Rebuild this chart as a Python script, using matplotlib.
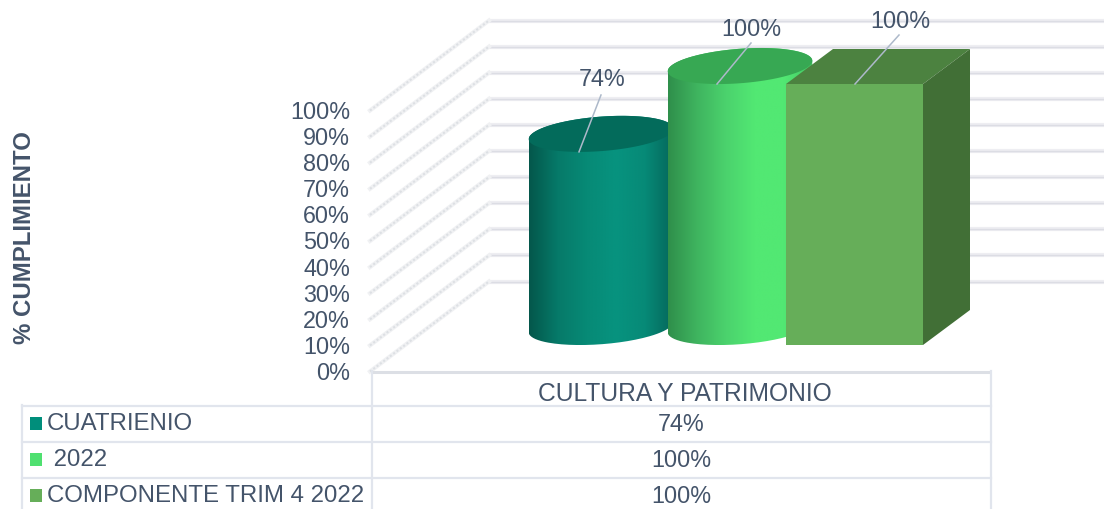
import numpy as np
import matplotlib
matplotlib.use("Agg")
import matplotlib.pyplot as plt
from matplotlib.colors import LinearSegmentedColormap
from matplotlib.patches import Polygon, Rectangle
from matplotlib.path import Path

plt.rcParams['font.family'] = ['Liberation Sans', 'DejaVu Sans']

categories = ['CULTURA Y PATRIMONIO']
series_names = ['CUATRIENIO', ' 2022', 'COMPONENTE TRIM 4 2022']
series_values = [74, 100, 100]
value_labels = ['74%', '100%', '100%']
y_ticks = [0, 10, 20, 30, 40, 50, 60, 70, 80, 90, 100]
y_title = '% CUMPLIMIENTO'

TEXT = '#44546a'
GRID = '#e1e5ed'
LEADER = '#adb9ca'
SWATCH = ['#008e7b', '#4fe070', '#66ae59']
FS = 16.8
FS_LEGEND = 17.3
FS_CAT = 17.7
UNIT = 2.61   # px per percent
ELL_A, ELL_B, ELL_TILT = 72.5, 17.2, np.radians(4.4)

fig = plt.figure(figsize=(11.04, 5.10), dpi=100)
ax = fig.add_axes([0, 0, 1, 1])
ax.set_axis_off()


def front_y(v):
    return 372.5 - v * UNIT


def back_y(v):
    return 282.5 - v * UNIT


# walls
for t in y_ticks:
    ax.plot([489, 1104], [back_y(t), back_y(t)], color='#eeeef2', lw=3, zorder=1, solid_capstyle='butt')
    ax.plot([489, 1104], [back_y(t), back_y(t)], color='#dcdde4', lw=1, zorder=1, solid_capstyle='butt')
    ax.plot([370, 489], [front_y(t), back_y(t)], color='#f0f1f3', lw=3, zorder=1)
    ax.plot([370, 489], [front_y(t), back_y(t)], color='#dde0e4', lw=1.5, ls=(0, (1, 1)), zorder=1)
    ax.text(350, front_y(t) + 1, f'{t}%', ha='right', va='center', fontsize=FS, color=TEXT)


def ellipse_pts(cx, cy, t):
    x = cx + ELL_A * np.cos(t) * np.cos(ELL_TILT) + ELL_B * np.sin(t) * np.sin(ELL_TILT)
    y = cy - ELL_A * np.cos(t) * np.sin(ELL_TILT) + ELL_B * np.sin(t) * np.cos(ELL_TILT)
    return np.column_stack([x, y])


def cylinder(cx, v, stops, cap, z):
    base = front_y(0) - 44.5
    top = base - v * UNIT
    t0 = np.arctan2(ELL_B * np.sin(ELL_TILT), ELL_A * np.cos(ELL_TILT))
    arc = np.linspace(t0, t0 + np.pi, 80)
    lower = ellipse_pts(cx, base, arc)
    upper = ellipse_pts(cx, top, arc + np.pi)
    pts = np.vstack([lower, upper])
    grad = np.linspace(0, 1, 256).reshape(1, -1)
    cmap = LinearSegmentedColormap.from_list('c', stops)
    im = ax.imshow(grad, cmap=cmap, extent=[pts[:, 0].min(), pts[:, 0].max(), pts[:, 1].max(), pts[:, 1].min()],
                   aspect='auto', zorder=z, interpolation='bilinear')
    im.set_clip_path(Path(pts), transform=ax.transData)
    ell = ellipse_pts(cx, top, np.linspace(0, 2 * np.pi, 120))
    ax.add_patch(Polygon(ell, closed=True, fc=cap, ec='none', zorder=z + 0.1))


cylinder(601, series_values[0], ['#04574b', '#067a69', '#078a76', '#07937f', '#078a77', '#05665a'], '#036b5b', 2)
cylinder(740, series_values[1], ['#2f8f4b', '#3fb45f', '#4bd26d', '#52e873', '#52e873', '#45c565'], '#37a853', 3)

# box
bx0, bx1, dx, dy = 786, 923, 47, 35
base = 346
top = base - series_values[2] * UNIT
ax.add_patch(Polygon([(bx0, top), (bx1, top), (bx1 + dx, top - dy), (bx0 + dx, top - dy)], fc='#4c8240', ec='none', zorder=4))
ax.add_patch(Polygon([(bx1, top), (bx1 + dx, top - dy), (bx1 + dx, base - dy), (bx1, base)], fc='#416f36', ec='none', zorder=4))
ax.add_patch(Rectangle((bx0, top), bx1 - bx0, base - top, fc='#66ae59', ec='none', zorder=4))

# leaders and labels
cyl_base = front_y(0) - 44.5
anchors = [(579, cyl_base - series_values[0] * UNIT + 18), (717, cyl_base - series_values[1] * UNIT + 18), (855, top)]
label_pos = [(602, 80), (751, 29), (900, 21)]
ends = [(601, 96), (751, 44), (899, 36)]
for (ax0, ay0), (lx, ly), (ex, ey), s in zip(anchors, label_pos, ends, value_labels):
    ax.plot([ax0, ex], [ay0, ey], color=LEADER, lw=1.1, zorder=6)
    ax.text(lx, ly, s, ha='center', va='center', fontsize=FS, color=TEXT, zorder=6)

# data table
ax.plot([371, 991], [372.5, 372.5], color='#dcdfe5', lw=2.2, zorder=1, solid_capstyle='butt')
for y0 in [406.5, 442.5, 478.5]:
    ax.plot([22, 991], [y0, y0], color=GRID, lw=1.6, zorder=1)
ax.plot([22, 22], [406, 510], color=GRID, lw=1.6, zorder=1)
ax.plot([371.5, 371.5], [372, 510], color=GRID, lw=1.6, zorder=1)
ax.plot([991, 991], [372, 510], color=GRID, lw=1.6, zorder=1)
ax.text(685, 394.5, categories[0], ha='center', va='center', fontsize=FS_CAT, color=TEXT)
for i, (name, s) in enumerate(zip(series_names, value_labels)):
    y0 = 425 + 36 * i
    ax.add_patch(Rectangle((30, y0 - 7), 12, 13, fc=SWATCH[i], ec='none', zorder=2))
    ax.text(47, y0 - 0.5, name, ha='left', va='center', fontsize=FS_LEGEND, color=TEXT)
    ax.text(681, y0, s, ha='center', va='center', fontsize=FS, color=TEXT)

ax.text(25, 238, y_title, rotation=90, ha='center', va='center', fontsize=17.3, fontweight='bold', color=TEXT)

ax.set_xlim(0, 1104)
ax.set_ylim(510, 0)
fig.savefig('out.png', dpi=100, facecolor='white')
